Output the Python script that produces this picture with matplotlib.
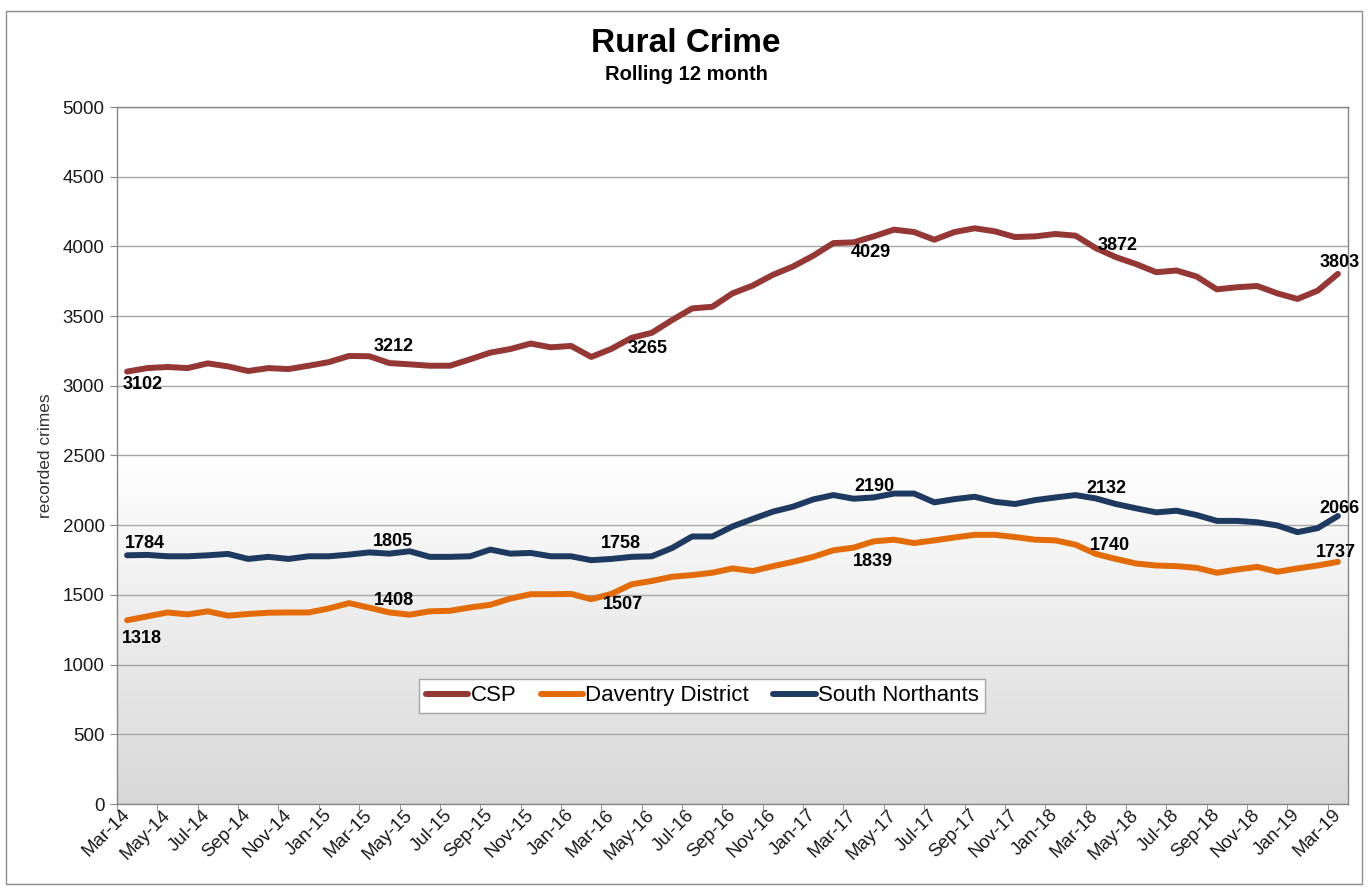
import matplotlib
matplotlib.use('Agg')
import matplotlib.pyplot as plt
from matplotlib.patches import Rectangle
import numpy as np

plt.rcParams['font.family'] = ['Liberation Sans', 'DejaVu Sans']

# months Mar-14 .. Mar-19
mon_names = ['Jan', 'Feb', 'Mar', 'Apr', 'May', 'Jun',
             'Jul', 'Aug', 'Sep', 'Oct', 'Nov', 'Dec']
months = []
for k in range(61):
    m = (2 + k) % 12
    y = 14 + (2 + k) // 12
    months.append('%s-%02d' % (mon_names[m], y))

csp = [3102, 3127, 3135, 3127, 3161, 3139, 3106, 3127, 3120, 3144,
       3170, 3214, 3212, 3163, 3154, 3144, 3144, 3190, 3238, 3264,
       3303, 3276, 3286, 3207, 3265, 3344, 3380, 3471, 3555, 3567,
       3663, 3719, 3796, 3856, 3933, 4024, 4029, 4072, 4120, 4103,
       4048, 4103, 4130, 4108, 4067, 4072, 4089, 4077, 3988, 3923,
       3873, 3815, 3827, 3784, 3692, 3707, 3716, 3663, 3623, 3683,
       3803]
daventry = [1318, 1346, 1374, 1360, 1382, 1351, 1363, 1372, 1374, 1374,
            1403, 1441, 1408, 1374, 1358, 1382, 1386, 1410, 1429, 1474,
            1505, 1505, 1507, 1469, 1507, 1576, 1600, 1630, 1642, 1659,
            1690, 1671, 1706, 1737, 1773, 1820, 1839, 1884, 1896, 1872,
            1891, 1912, 1931, 1931, 1915, 1896, 1891, 1860, 1794, 1758,
            1725, 1711, 1706, 1694, 1659, 1682, 1701, 1666, 1690, 1711,
            1737]
south = [1784, 1787, 1777, 1777, 1784, 1794, 1758, 1773, 1758, 1777,
         1777, 1789, 1805, 1796, 1813, 1773, 1773, 1777, 1825, 1796,
         1801, 1777, 1777, 1749, 1758, 1773, 1777, 1836, 1919, 1919,
         1991, 2045, 2097, 2133, 2185, 2216, 2190, 2199, 2227, 2227,
         2164, 2187, 2204, 2168, 2152, 2180, 2199, 2216, 2192, 2152,
         2121, 2092, 2104, 2073, 2031, 2031, 2021, 1998, 1950, 1979,
         2066]

label_idx = [0, 12, 24, 36, 48, 60]
csp_labels = ['3102', '3212', '3265', '4029', '3872', '3803']
daventry_labels = ['1318', '1408', '1507', '1839', '1740', '1737']
south_labels = ['1784', '1805', '1758', '2190', '2132', '2066']

# label offsets in pixels from the point
csp_off = [(16, -13), (24, 10), (36, 0), (17, -10), (22, 3), (2, 11)]
daventry_off = [(15, -18), (25, 7), (12, -11), (19, -14), (14, 8), (-2, 9)]
south_off = [(18, 12), (24, 11), (9, 15), (21, 12), (11, 10), (2, 7)]

c_csp = '#953735'
c_dav = '#E36C09'
c_sn = '#1F3A60'

fig = plt.figure(figsize=(13.68, 8.88), dpi=100)
ax = fig.add_axes([117/1368, 1 - 804/888, (1348 - 117)/1368, (804 - 107)/888])
ax.patch.set_facecolor('none')

# background gradient (white top, grey bottom)
t = np.linspace(0, 1, 256)[:, None]
shade = np.clip(0.85 + 0.15 * t / 0.5, 0, 1)
img = np.dstack([shade, shade, shade])
ax.imshow(img, extent=[0, 1, 0, 1], transform=ax.transAxes, aspect='auto',
          origin='lower', zorder=-10)

x = np.arange(len(months))
ax.plot(x, csp, color=c_csp, lw=4.3, label='CSP', solid_capstyle='round', zorder=3)
ax.plot(x, daventry, color=c_dav, lw=4.3, label='Daventry District', solid_capstyle='round', zorder=3)
ax.plot(x, south, color=c_sn, lw=4.3, label='South Northants', solid_capstyle='round', zorder=3)

for series, labs, offs in [(csp, csp_labels, csp_off),
                           (daventry, daventry_labels, daventry_off),
                           (south, south_labels, south_off)]:
    for i, lab, off in zip(label_idx, labs, offs):
        ax.annotate(lab, (x[i], series[i]), xytext=off, textcoords='offset pixels',
                    ha='center', va='center', fontsize=13, fontweight='bold',
                    color='black', zorder=5, annotation_clip=False)

ax.set_xlim(-0.5, 60.5)
ax.set_ylim(0, 5000)
ax.set_yticks(range(0, 5001, 500))
ax.yaxis.grid(True, color='#a6a6a6', lw=1)
ax.set_axisbelow(True)

ax.set_xticks(x[::2])
ax.set_xticklabels(months[::2])
ax.set_xticks(np.arange(-0.5, 60, 2), minor=True)
ax.tick_params(axis='x', which='major', length=0, pad=6, labelsize=13.5, labelcolor='#1a1a1a')
ax.tick_params(axis='x', which='minor', length=5, color='#868686')
ax.tick_params(axis='y', length=5, color='#868686', labelsize=13.5, labelcolor='#1a1a1a', pad=4)
for lbl in ax.get_xticklabels():
    lbl.set_rotation(45)
    lbl.set_ha('right')
    lbl.set_va('center')
    lbl.set_rotation_mode('anchor')

for s in ax.spines.values():
    s.set_color('#868686')
    s.set_linewidth(1)

ax.set_ylabel('recorded crimes', fontsize=12.5, color='#333333', labelpad=7)

leg = ax.legend(loc='center', bbox_to_anchor=(0.4756, 0.155), ncol=3, fontsize=16,
                frameon=True, fancybox=False, edgecolor='#a6a6a6', facecolor='white',
                framealpha=1, handlelength=1.9, handletextpad=0.1, columnspacing=1.1,
                borderpad=0.3, borderaxespad=0)
leg.get_frame().set_linewidth(1)

fig.text(686/1368, 1 - 43/888, 'Rural Crime', ha='center', va='center',
         fontsize=24, fontweight='bold')
fig.text(686/1368, 1 - 74/888, 'Rolling 12 month', ha='center', va='center',
         fontsize=14.5, fontweight='bold')

fig.patches.append(Rectangle((6/1368, 4/888), 1356/1368, 873/888, transform=fig.transFigure,
                             fill=False, edgecolor='#8c8c8c', lw=1))

fig.savefig('out.png', dpi=100)
